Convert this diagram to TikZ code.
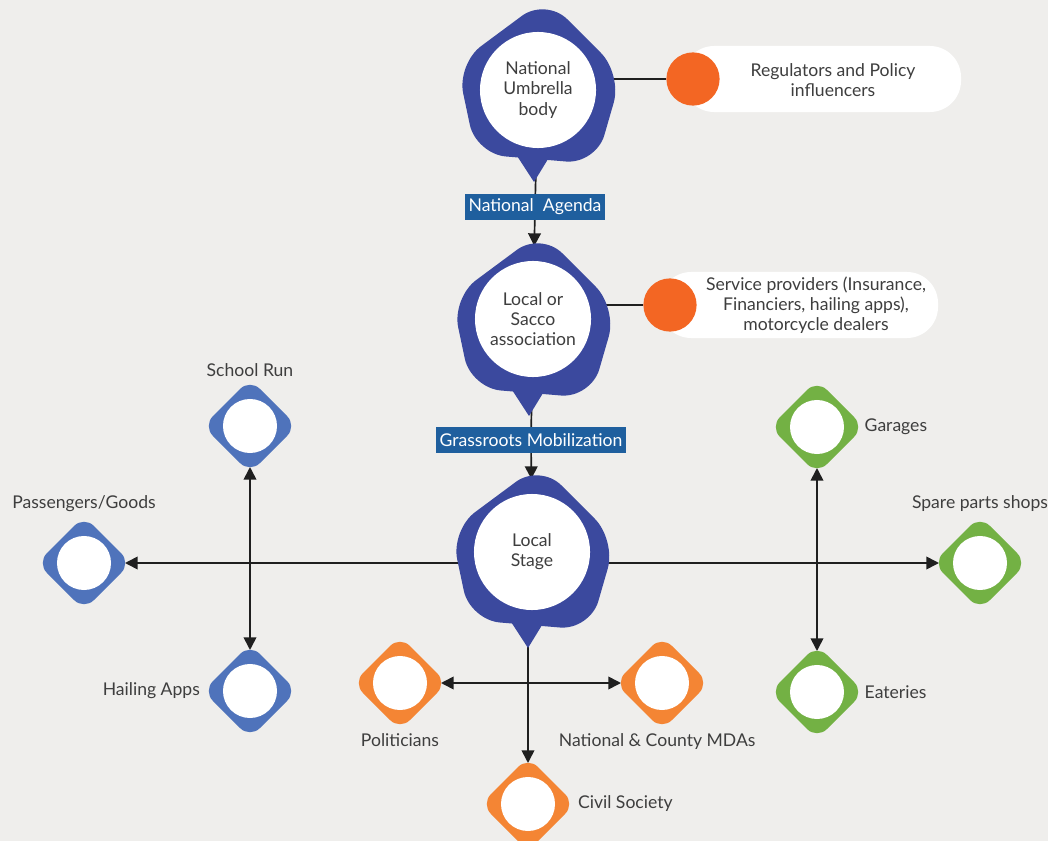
\documentclass[tikz,border=0pt]{standalone}
\usepackage{fontspec}
\setmainfont{Lato}
\usetikzlibrary{arrows.meta,positioning}
\definecolor{bgc}{RGB}{239,238,236}
\definecolor{blobc}{RGB}{59,73,158}
\definecolor{dblue}{RGB}{79,115,187}
\definecolor{dorange}{RGB}{244,133,52}
\definecolor{dgreen}{RGB}{115,177,68}
\definecolor{dotc}{RGB}{243,102,35}
\definecolor{tagc}{RGB}{31,95,158}
\definecolor{txtc}{RGB}{62,62,62}
\pgfdeclarelayer{back}
\pgfdeclarelayer{bg}
\pgfsetlayers{back,bg,main}

\tikzset{
  blobtxt/.style={circle, fill=white, minimum size=2.9cm, inner sep=0pt, outer sep=0.375cm, align=center, text=txtc},
  hole/.style={circle, fill=white, minimum size=1.35cm, inner sep=0pt, outer sep=0.35cm},
  tag/.style={fill=tagc, text=white, inner sep=0pt, minimum height=0.64cm},
  pill/.style={fill=white, rounded corners=0.78cm, minimum width=6.95cm, minimum height=1.65cm, inner sep=0pt},
  dot/.style={circle, fill=dotc, minimum size=1.33cm, inner sep=0pt},
  lbl/.style={text=txtc, inner sep=0pt, align=center},
  link/.style={line width=1.2pt, black!88},
  arr/.style={link, -{Triangle[length=9pt,width=9pt]}},
  arrs/.style={link, {Triangle[length=9pt,width=9pt]}-{Triangle[length=9pt,width=9pt]}}
}

\begin{document}
\begin{tikzpicture}[x=0.025cm, y=-0.025cm, font=\fontsize{12.5}{14.4}\selectfont]

\useasboundingbox (0,0) rectangle (1048,841);
\begin{pgfonlayer}{back}
  \fill[bgc] (0,0) rectangle (1048,841);
\end{pgfonlayer}

%blobs
\foreach \px/\py in {538/86, 533/320, 532/552}{
  \begin{scope}[shift={(\px,\py)}]
    \fill[blobc, rounded corners=0.75cm] (8,-88) -- (84,-12) -- (58,78) -- (-62,68) -- (-81,-22) -- cycle;
    \fill[blobc] (-30,56) -- (-4,96) -- (18,60) -- cycle;
  \end{scope}
}
\node[blobtxt] (umb) at (538,90) {National\\Umbrella\\body};
\node[blobtxt] (sacco) at (533,319) {Local or\\Sacco\\association};
\node[blobtxt] (stage) at (532,552) {Local\\Stage};

%side boxes
\node[pill] (regpill) at (822,79) {};
\node[dot] (regdot) at (693,79) {};
\node[lbl] (regtxt) at (833,80) {Regulators and Policy\\influencers};
\node[pill] (svcpill) at (799,305) {};
\node[dot] (svcdot) at (670,305) {};
\node[lbl] (svctxt) at (816,305) {Service providers (Insurance,\\Financiers, hailing apps),\\motorcycle dealers};

%tags
\node[tag, minimum width=3.5cm] (agenda) at (535,207) {National\ \ Agenda};
\node[tag, minimum width=4.75cm] (grass) at (531,440) {Grassroots Mobilization};

%diamonds
\foreach \nm/\px/\py/\col in {school/250/426/dblue, pass/84/563/dblue, hail/250/691/dblue,
    pol/400/683/dorange, mda/662/683/dorange, civil/528/804/dorange,
    garage/817/427/dgreen, spare/980/563/dgreen, eat/817/692/dgreen}{
  \fill[\col, rounded corners=0.35cm] (\px,\py) ++(0,-47) -- ++(47,47) -- ++(-47,47) -- ++(-47,-47) -- cycle;
  \node[hole] (\nm) at (\px,\py) {};
}

%labels
\node[lbl, above=0.2cm of school] (schooltxt) {School Run};
\node[lbl, above=0.25cm of pass] (passtxt) {Passengers/Goods};
\node[lbl, left=0.22cm of hail] (hailtxt) {Hailing Apps};
\node[lbl, below=0.22cm of pol] (poltxt) {Politicians};
\node[lbl, below=0.22cm of mda, xshift=-0.12cm] (mdatxt) {National \& County MDAs};
\node[lbl, right=0.22cm of civil] (civiltxt) {Civil Society};
\node[lbl, right=0.16cm of garage] (garagetxt) {Garages};
\node[lbl, above=0.25cm of spare] (sparetxt) {Spare parts shops};
\node[lbl, right=0.16cm of eat] (eattxt) {Eateries};

%connectors
\begin{pgfonlayer}{bg}
  \draw[link] (regdot.west) -- (regdot.west -| umb.center);
  \draw[link] (svcdot.west) -- (svcdot.west -| sacco.center);
  \draw[link] (umb) -- (agenda);
  \draw[arr] (agenda) -- (sacco);
  \draw[link] (sacco) -- (grass);
  \draw[arr] (grass) -- (stage);
  \draw[arrs] (pass) -- (spare);
  \draw[arrs] (school) -- (hail);
  \draw[arrs] (garage) -- (eat);
  \draw[arrs] (pol) -- (mda);
  \draw[arr] (stage.south -| civil) -- (civil);
\end{pgfonlayer}

\end{tikzpicture}
\end{document}
